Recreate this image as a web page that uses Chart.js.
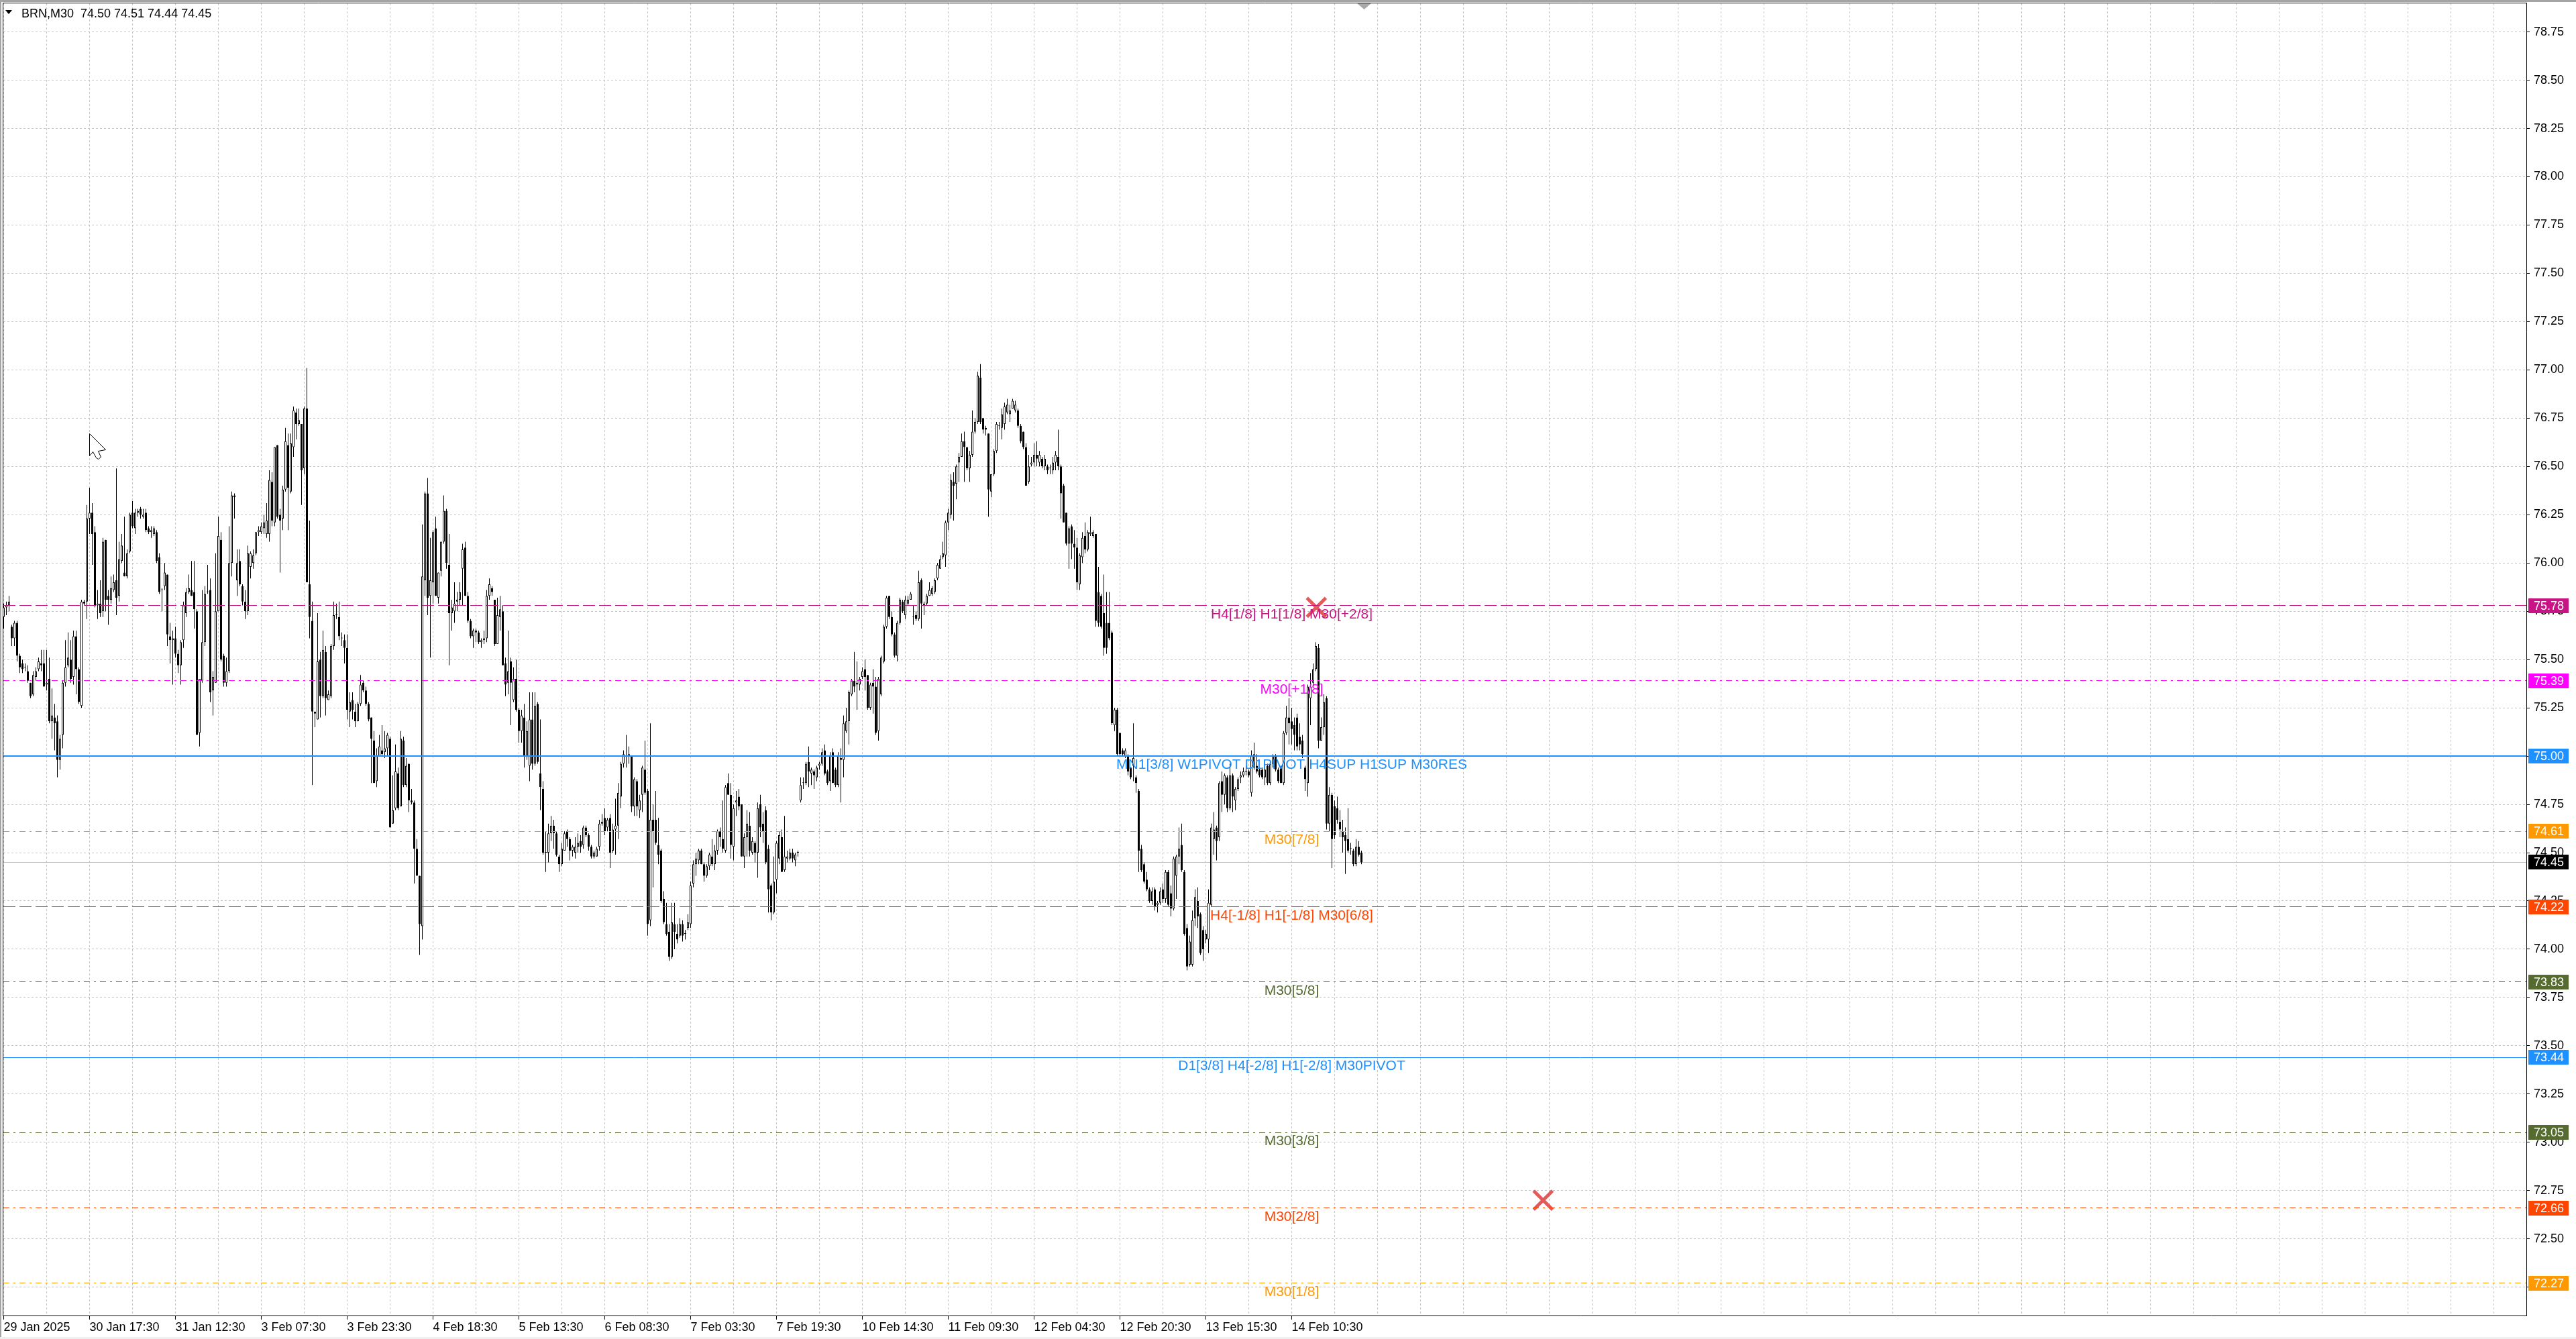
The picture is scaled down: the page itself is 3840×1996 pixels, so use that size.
<!DOCTYPE html>
<html>
<head>
<meta charset="utf-8">
<title>BRN,M30</title>
<script src="https://cdn.jsdelivr.net/npm/chart.js@4.4.1/dist/chart.umd.min.js"></script>
<style>
  html, body { margin: 0; padding: 0; background: #fff; overflow: hidden; }
  #chart { display: block; }
</style>
</head>
<body>
<canvas id="chart" width="3840" height="1996"></canvas>
<script>
// BRN M30 candles, bar 0 = 29 Jan 2025, last bar = 14 Feb 2025 (16 bars per row)
const opens = [
  75.72,75.77,75.78,75.67,75.61,75.69,75.52,75.48,75.46,75.44,75.38,75.32,75.41,75.45,75.48,75.48,
  75.37,75.40,75.18,75.20,75.18,74.98,75.11,75.38,75.47,75.50,75.41,75.62,75.45,75.26,75.80,75.80,
  76.23,76.26,76.16,75.78,75.79,75.75,76.12,75.83,75.81,75.86,75.91,75.83,76.01,75.95,75.93,76.06,
  76.26,76.18,76.26,76.28,76.24,76.26,76.18,76.16,76.15,76.16,76.03,75.86,75.88,75.94,75.62,75.60,
  75.61,75.53,75.47,75.60,75.74,75.85,75.86,75.85,75.75,75.12,75.39,75.59,75.85,75.86,75.34,75.38,
  75.75,76.12,75.52,75.38,75.44,76.00,76.35,75.91,76.01,75.88,75.80,75.75,75.98,76.00,76.05,76.16,
  76.16,76.18,76.15,76.15,76.42,76.21,76.61,76.25,76.23,76.38,76.61,76.37,76.60,76.78,76.72,76.72,
  76.49,76.80,75.89,75.70,75.23,75.19,75.50,75.31,75.54,75.29,75.31,75.57,75.73,75.72,75.61,75.60,
  75.56,75.23,75.29,75.23,75.18,75.27,75.38,75.34,75.27,75.20,75.08,74.87,75.00,75.03,75.02,75.04,
  75.09,74.65,74.73,74.91,74.74,75.08,74.85,74.96,74.77,74.76,74.52,74.38,74.12,75.91,76.36,75.83,
  75.90,76.18,75.82,75.96,76.11,76.27,75.99,75.74,75.75,75.80,75.81,75.97,76.08,75.83,75.70,75.62,
  75.65,75.64,75.59,75.60,75.61,75.83,75.87,75.81,75.58,75.72,75.75,75.48,75.38,75.49,75.29,75.40,
  75.24,75.13,75.20,75.00,74.95,75.19,74.96,75.27,74.91,74.83,74.50,74.50,74.60,74.64,74.60,74.48,
  74.44,74.51,74.61,74.57,74.51,74.50,74.53,74.56,74.54,74.63,74.59,74.53,74.48,74.48,74.53,74.65,
  74.68,74.63,74.68,74.51,74.62,74.64,74.79,74.96,75.00,75.00,75.00,74.74,74.87,74.72,74.80,74.93,
  74.82,74.15,74.67,74.67,74.54,74.51,74.26,74.13,74.09,73.96,74.13,74.08,74.07,74.13,74.08,74.11,
  74.13,74.34,74.44,74.46,74.51,74.44,74.38,74.43,74.48,74.44,74.51,74.61,74.57,74.51,74.86,74.80,
  74.53,74.76,74.79,74.75,74.48,74.58,74.64,74.50,74.55,74.50,74.75,74.65,74.72,74.52,74.33,74.19,
  74.36,74.47,74.58,74.41,74.47,74.47,74.50,74.46,74.50,74.77,74.86,74.86,74.97,74.91,74.92,74.89,
  74.95,74.96,75.03,74.92,74.87,75.02,74.93,74.85,74.99,74.98,75.13,75.18,75.32,75.39,75.37,75.37,
  75.41,75.45,75.42,75.25,75.38,75.36,75.13,75.32,75.49,75.67,75.83,75.72,75.63,75.52,75.69,75.80,
  75.73,75.79,75.81,75.72,75.73,75.71,75.91,75.78,75.79,75.83,75.84,75.85,75.92,75.97,76.03,76.04,
  76.21,76.25,76.42,76.41,76.52,76.55,76.63,76.60,76.49,76.56,76.68,76.73,76.96,76.75,76.70,76.67,
  76.37,76.46,76.58,76.71,76.70,76.72,76.78,76.77,76.80,76.79,76.79,76.71,76.68,76.60,76.42,76.51,
  76.52,76.56,76.52,76.54,76.50,76.50,76.49,76.48,76.52,76.55,76.50,76.40,76.26,76.10,76.19,76.10,
  76.08,75.89,76.03,76.14,76.07,76.15,76.14,76.15,75.85,75.83,75.74,75.69,75.69,75.64,75.16,75.24,
  75.12,75.03,75.00,75.00,74.94,74.95,74.89,74.82,74.52,74.44,74.36,74.31,74.25,74.31,74.23,74.24,
  74.31,74.26,74.40,74.29,74.21,74.38,74.48,74.54,74.40,74.11,73.92,73.92,74.16,74.25,74.18,74.10,
  74.05,74.05,74.23,74.57,74.63,74.58,74.87,74.80,74.89,74.73,74.90,74.77,74.83,74.89,74.90,74.92,
  74.92,74.81,74.94,74.95,74.93,74.93,74.89,74.95,74.86,74.96,75.00,74.93,74.94,74.86,75.12,75.20,
  75.18,75.16,75.20,75.10,75.08,74.94,74.86,75.30,75.38,75.45,75.56,75.08,75.15,75.30,74.65,74.80,
  74.74,74.73,74.66,74.61,74.59,74.57,74.52,74.51,74.44,74.53,74.50
];
const highs = [
  75.79,75.80,75.83,75.68,75.70,75.70,75.53,75.50,75.48,75.47,75.38,75.44,75.46,75.51,75.55,75.55,
  75.55,75.51,75.35,75.27,75.21,75.11,75.39,75.60,75.64,75.60,75.65,75.65,75.46,75.81,75.81,76.30,
  76.39,76.31,76.19,75.86,75.91,76.13,76.12,75.86,75.93,75.94,76.49,76.11,76.15,76.24,76.07,76.26,
  76.32,76.28,76.28,76.29,76.28,76.28,76.19,76.19,76.19,76.17,76.05,75.87,76.00,75.94,75.69,75.65,
  75.67,75.55,75.60,75.80,75.87,75.94,76.01,76.01,75.76,75.40,75.86,75.88,75.99,75.92,75.44,76.05,
  76.24,76.16,75.53,75.51,76.19,76.37,76.36,76.07,76.07,75.89,75.86,76.09,76.06,76.07,76.16,76.19,
  76.21,76.25,76.31,76.48,76.47,76.60,76.61,76.28,76.40,76.70,76.67,76.67,76.81,76.80,76.80,76.72,
  76.81,77.01,76.22,75.80,75.23,75.74,75.54,75.65,75.57,75.34,75.58,75.80,75.79,75.80,75.64,75.63,
  75.63,75.33,75.33,75.27,75.28,75.42,75.39,75.36,75.28,75.20,75.13,75.04,75.11,75.16,75.13,75.12,
  75.10,74.90,75.06,74.94,75.13,75.10,74.99,74.96,74.83,74.77,74.57,74.38,76.20,76.37,76.44,76.13,
  76.17,76.24,75.95,76.11,76.35,76.28,76.15,75.81,75.90,75.85,75.90,76.10,76.11,75.85,75.71,75.66,
  75.66,75.65,75.61,75.65,75.86,75.92,75.88,75.81,75.82,75.83,75.78,75.51,75.65,75.51,75.46,75.50,
  75.25,75.24,75.27,75.18,75.33,75.33,75.33,75.28,75.19,74.87,74.61,74.65,74.69,74.67,74.61,74.49,
  74.55,74.61,74.62,74.58,74.54,74.58,74.60,74.59,74.64,74.64,74.60,74.54,74.51,74.53,74.67,74.70,
  74.73,74.68,74.70,74.65,74.78,74.86,74.97,75.03,75.11,75.05,75.00,74.89,74.88,74.80,74.95,75.08,
  74.83,75.17,74.75,74.82,74.68,74.52,74.30,74.24,74.13,74.24,74.24,74.13,74.16,74.15,74.10,74.18,
  74.35,74.46,74.50,74.52,74.52,74.45,74.44,74.50,74.57,74.54,74.62,74.63,74.77,74.85,74.91,74.86,
  74.75,74.82,74.83,74.75,74.60,74.72,74.71,74.58,74.56,74.76,74.80,74.71,74.74,74.54,74.34,74.48,
  74.56,74.61,74.62,74.69,74.51,74.52,74.52,74.50,74.51,74.89,74.89,74.97,75.05,74.94,74.93,74.95,
  74.97,75.04,75.06,74.93,75.02,75.04,74.94,75.02,75.04,75.21,75.25,75.34,75.40,75.54,75.49,75.41,
  75.46,75.50,75.42,75.38,75.45,75.41,75.41,75.52,75.68,75.83,75.83,75.75,75.64,75.70,75.82,75.81,
  75.83,75.83,75.85,75.78,75.75,75.96,75.92,75.80,75.84,75.90,75.88,75.92,76.00,76.04,76.11,76.22,
  76.28,76.46,76.47,76.51,76.57,76.67,76.68,76.60,76.58,76.79,76.75,76.99,77.03,76.75,76.71,76.67,
  76.46,76.59,76.73,76.73,76.80,76.83,76.85,76.82,76.85,76.84,76.80,76.72,76.68,76.62,76.56,76.55,
  76.62,76.63,76.58,76.55,76.56,76.51,76.51,76.55,76.58,76.69,76.51,76.41,76.26,76.19,76.20,76.17,
  76.13,76.05,76.16,76.21,76.17,76.24,76.17,76.15,75.98,75.84,75.94,75.85,75.85,75.65,75.25,75.25,
  75.12,75.04,75.04,75.01,74.94,75.17,74.90,74.83,74.54,74.45,74.40,74.32,74.32,74.32,74.25,74.32,
  74.34,74.41,74.41,74.33,74.48,74.49,74.63,74.65,74.41,74.13,74.07,74.20,74.31,74.32,74.19,74.12,
  74.10,74.31,74.65,74.71,74.64,74.87,74.92,74.91,74.90,74.96,74.91,74.84,74.89,74.92,74.94,74.95,
  74.93,75.03,75.07,75.01,74.94,74.94,74.94,74.96,74.97,75.01,75.01,74.94,74.95,75.13,75.26,75.30,
  75.25,75.20,75.22,75.17,75.11,74.95,75.37,75.43,75.48,75.59,75.58,75.20,75.32,75.31,74.84,74.81,
  74.77,74.79,74.72,74.67,74.63,74.73,74.55,74.52,74.57,74.56,74.51
];
const lows = [
  75.66,75.73,75.75,75.57,75.57,75.49,75.43,75.43,75.44,75.38,75.30,75.31,75.39,75.44,75.44,75.36,
  75.34,75.17,75.09,75.03,74.89,74.93,75.04,75.36,75.46,75.38,75.37,75.32,75.27,75.25,75.78,75.71,
  76.15,75.99,75.77,75.71,75.72,75.72,75.75,75.68,75.79,75.85,75.73,75.80,76.00,75.93,75.92,76.05,
  76.18,76.15,76.24,76.23,76.23,76.16,76.15,76.13,76.14,76.00,75.84,75.75,75.86,75.57,75.48,75.37,
  75.51,75.43,75.37,75.56,75.72,75.84,75.83,75.66,75.11,75.05,75.38,75.57,75.84,75.28,75.21,75.38,
  75.75,75.49,75.36,75.36,75.43,75.93,76.23,75.83,75.88,75.78,75.71,75.73,75.92,75.97,76.04,76.14,
  76.15,76.15,76.13,76.11,76.19,76.19,76.23,75.95,76.17,76.37,76.17,76.36,76.55,76.64,76.71,76.30,
  76.46,75.90,75.61,74.85,75.15,75.19,75.20,75.30,75.21,75.29,75.30,75.55,75.71,75.60,75.57,75.48,
  75.19,75.15,75.19,75.15,75.18,75.26,75.33,75.26,75.18,74.86,74.86,74.84,75.00,75.00,74.99,75.00,
  74.63,74.65,74.72,74.72,74.74,74.84,74.84,74.71,74.75,74.34,74.38,73.97,74.05,75.83,75.73,75.51,
  75.79,75.83,75.79,75.93,76.10,75.97,75.47,75.65,75.69,75.75,75.78,75.78,75.83,75.69,75.61,75.56,
  75.59,75.58,75.56,75.58,75.59,75.81,75.83,75.57,75.58,75.65,75.47,75.31,75.32,75.16,75.28,75.23,
  75.07,75.07,74.94,74.98,74.87,74.93,74.95,74.96,74.72,74.49,74.40,74.45,74.56,74.52,74.48,74.40,
  74.43,74.51,74.53,74.46,74.48,74.47,74.50,74.50,74.52,74.58,74.51,74.47,74.47,74.48,74.51,74.64,
  74.59,74.61,74.42,74.50,74.49,74.57,74.73,74.94,74.94,74.96,74.71,74.69,74.69,74.68,74.71,74.80,
  74.07,74.12,74.32,74.54,74.44,74.24,74.13,74.07,73.94,73.95,74.00,74.03,74.06,74.04,74.05,74.10,
  74.11,74.32,74.38,74.44,74.44,74.35,74.37,74.41,74.43,74.41,74.49,74.53,74.50,74.50,74.80,74.47,
  74.46,74.69,74.72,74.48,74.42,74.48,74.48,74.49,74.45,74.37,74.58,74.55,74.44,74.19,74.15,74.18,
  74.29,74.44,74.40,74.40,74.45,74.46,74.45,74.43,74.48,74.76,74.83,74.85,74.84,74.85,74.83,74.87,
  74.93,74.95,74.90,74.85,74.82,74.86,74.84,74.84,74.76,74.89,75.12,75.06,75.31,75.33,75.24,75.34,
  75.40,75.34,75.24,75.24,75.22,75.11,75.08,75.31,75.48,75.66,75.71,75.62,75.51,75.49,75.68,75.74,
  75.71,75.78,75.81,75.68,75.70,75.70,75.66,75.73,75.78,75.83,75.83,75.84,75.91,75.97,76.02,75.98,
  76.17,76.23,76.22,76.33,76.42,76.55,76.42,76.48,76.42,76.55,76.67,76.72,76.72,76.67,76.66,76.24,
  76.34,76.45,76.57,76.69,76.64,76.69,76.77,76.73,76.80,76.78,76.70,76.62,76.59,76.40,76.41,76.50,
  76.50,76.50,76.50,76.49,76.48,76.46,76.46,76.46,76.48,76.48,76.23,76.21,76.09,75.97,76.02,75.97,
  75.86,75.86,76.00,76.05,76.06,76.14,76.13,75.67,75.67,75.66,75.52,75.53,75.60,75.16,75.13,75.00,
  75.00,75.00,74.99,74.90,74.88,74.87,74.81,74.40,74.40,74.34,74.30,74.24,74.23,74.20,74.19,74.23,
  74.24,74.24,74.22,74.17,74.20,74.26,74.44,74.40,74.07,73.89,73.91,73.91,74.12,74.11,73.97,73.94,
  74.03,73.98,74.22,74.49,74.46,74.56,74.71,74.75,74.71,74.72,74.71,74.72,74.82,74.86,74.89,74.90,
  74.89,74.79,74.93,74.91,74.89,74.88,74.85,74.85,74.85,74.94,74.92,74.86,74.86,74.85,75.11,75.06,
  75.06,75.03,75.03,75.03,74.99,74.82,74.79,75.16,75.36,75.44,75.04,75.08,75.11,74.62,74.61,74.42,
  74.57,74.65,74.58,74.50,74.39,74.50,74.49,74.43,74.43,74.48,74.44
];
const closes = [
  75.77,75.78,75.80,75.61,75.69,75.52,75.46,75.45,75.46,75.39,75.31,75.42,75.44,75.49,75.47,75.36,
  75.38,75.18,75.21,75.17,74.98,75.09,75.38,75.46,75.51,75.40,75.62,75.45,75.28,75.80,75.79,76.23,
  76.26,76.15,75.78,75.79,75.74,76.11,75.81,75.81,75.87,75.90,75.82,76.02,76.09,75.93,76.05,76.25,
  76.19,76.26,76.27,76.25,76.25,76.17,76.16,76.17,76.18,76.01,75.85,75.86,75.95,75.63,75.60,75.61,
  75.53,75.47,75.59,75.78,75.85,75.87,75.83,75.76,75.11,75.40,75.59,75.84,75.85,75.33,75.41,75.75,
  76.14,75.50,75.38,75.44,76.00,76.35,76.34,76.00,75.89,75.80,75.75,76.05,76.05,76.04,76.16,76.17,
  76.19,76.21,76.22,76.43,76.22,76.60,76.24,76.22,76.38,76.63,76.39,76.62,76.79,76.72,76.74,76.48,
  76.80,75.90,75.72,75.23,75.22,75.49,75.31,75.55,75.30,75.32,75.57,75.73,75.73,75.62,75.61,75.56,
  75.24,75.28,75.24,75.18,75.27,75.37,75.34,75.27,75.19,75.09,74.86,75.00,75.05,75.01,75.04,75.11,
  74.63,74.72,74.92,74.73,75.09,74.85,74.95,74.77,74.76,74.52,74.38,74.13,75.93,76.36,75.82,75.91,
  76.16,75.83,75.95,76.11,76.27,76.00,75.74,75.77,75.79,75.81,75.85,76.07,75.83,75.70,75.62,75.65,
  75.64,75.59,75.60,75.61,75.83,75.89,75.85,75.58,75.73,75.76,75.47,75.37,75.44,75.38,75.40,75.24,
  75.13,75.21,75.00,75.13,75.19,74.96,75.26,74.97,74.84,74.50,74.50,74.60,74.64,74.60,74.49,74.44,
  74.52,74.60,74.57,74.51,74.53,74.53,74.55,74.53,74.63,74.59,74.53,74.48,74.50,74.52,74.65,74.66,
  74.61,74.67,74.50,74.62,74.64,74.81,74.96,75.01,75.00,75.01,74.74,74.88,74.74,74.77,74.94,74.81,
  74.13,74.67,74.61,74.55,74.49,74.25,74.14,74.08,73.96,74.14,74.09,74.05,74.13,74.07,74.08,74.14,
  74.33,74.44,74.47,74.51,74.44,74.38,74.43,74.49,74.44,74.51,74.61,74.58,74.52,74.84,74.80,74.54,
  74.73,74.77,74.74,74.48,74.58,74.65,74.51,74.56,74.50,74.73,74.63,74.61,74.45,74.31,74.19,74.35,
  74.55,74.59,74.40,74.48,74.48,74.50,74.47,74.49,74.50,74.85,74.86,74.96,74.92,74.93,74.90,74.94,
  74.96,75.02,74.91,74.86,75.00,74.86,74.85,75.00,74.98,75.17,75.18,75.33,75.39,75.36,75.38,75.40,
  75.44,75.41,75.25,75.37,75.36,75.12,75.40,75.51,75.67,75.82,75.72,75.63,75.52,75.69,75.81,75.75,
  75.81,75.81,75.84,75.72,75.71,75.90,75.79,75.79,75.83,75.86,75.87,75.91,75.99,76.02,76.05,76.21,
  76.26,76.43,76.40,76.50,76.55,76.63,76.60,76.49,76.56,76.68,76.73,76.97,76.73,76.69,76.69,76.38,
  76.46,76.58,76.72,76.71,76.77,76.81,76.82,76.79,76.84,76.82,76.71,76.63,76.60,76.40,76.50,76.52,
  76.56,76.54,76.56,76.50,76.54,76.48,76.49,76.52,76.56,76.50,76.36,76.21,76.10,76.18,76.10,76.08,
  75.90,76.04,76.13,76.07,76.16,76.16,76.16,75.70,75.69,75.67,75.56,75.56,75.61,75.17,75.24,75.01,
  75.01,75.01,75.03,74.92,74.89,74.99,74.86,74.51,74.41,74.35,74.31,74.25,74.30,74.22,74.24,74.30,
  74.26,74.40,74.23,74.21,74.47,74.48,74.52,74.41,74.08,73.91,74.04,74.15,74.27,74.17,73.98,74.00,
  74.08,74.24,74.63,74.62,74.56,74.86,74.80,74.90,74.73,74.90,74.79,74.83,74.88,74.90,74.92,74.92,
  74.90,75.00,75.01,74.92,74.90,74.89,74.93,74.86,74.96,75.00,74.93,74.87,74.86,75.12,75.20,75.17,
  75.14,75.11,75.05,75.06,75.01,74.88,75.36,75.36,75.45,75.57,75.08,75.15,75.28,74.65,74.80,74.57,
  74.59,74.67,74.62,74.58,74.56,74.51,74.52,74.44,74.53,74.49,74.45
];

// time axis: one label every 32 bars
const timeLabels = [
  '29 Jan 2025', '30 Jan 17:30', '31 Jan 12:30', '3 Feb 07:30', '3 Feb 23:30', '4 Feb 18:30',
  '5 Feb 13:30', '6 Feb 08:30', '7 Feb 03:30', '7 Feb 19:30', '10 Feb 14:30', '11 Feb 09:30',
  '12 Feb 04:30', '12 Feb 20:30', '13 Feb 15:30', '14 Feb 10:30'
];
const priceTicks = [
  72.25, 72.50, 72.75, 73.00, 73.25, 73.50, 73.75, 74.00, 74.25, 74.50, 74.75, 75.00, 75.25, 75.50,
  75.75, 76.00, 76.25, 76.50, 76.75, 77.00, 77.25, 77.50, 77.75, 78.00, 78.25, 78.50, 78.75
];

// Murrey levels + pivots
const levelPrices = [75.78, 75.39, 75.00, 74.61, 74.22, 73.83, 73.44, 73.05, 72.66, 72.27];
const levelTexts = [
  'H4[1/8] H1[1/8] M30[+2/8]',
  'M30[+1/8]',
  'MN1[3/8] W1PIVOT D1PIVOT H4SUP H1SUP M30RES',
  'M30[7/8]',
  'H4[-1/8] H1[-1/8] M30[6/8]',
  'M30[5/8]',
  'D1[3/8] H4[-2/8] H1[-2/8] M30PIVOT',
  'M30[3/8]',
  'M30[2/8]',
  'M30[1/8]'
];
const levelLabelBar = 480;

// the two red crosses
const crossBars = [489.2, 573.7];
const crossPrices = [75.77, 72.70];

// where the mouse pointer was left
const pointerBar = 31.9;
const pointerPrice = 76.67;

const symbolName = 'BRN,M30';

// ---- styles ----
const DASH = [18, 6];
const DASHDOT = [9, 6, 3, 6];
const levelColors = ['#C71585', '#FF00FF', '#1E90FF', '#FF9900', '#FF4500',
                     '#556B2F', '#1E90FF', '#556B2F', '#FF4500', '#FF9900'];
const levelDashes = [DASH, DASHDOT, [], DASHDOT, DASH, DASHDOT, [], DASHDOT, DASHDOT, DASHDOT];
const levelWidths = [1, 1, 2, 1, 1, 1, 1, 1, 1, 1];
const GRID = '#C4C4C4';
const FONT = '"Liberation Sans", Arial, sans-serif';

const X_MIN = -0.125, X_MAX = 940.125;
const Y_MIN = 72.103, Y_MAX = 78.898;
const last = closes.length - 1;

Chart.defaults.font.family = FONT;

const wickData = highs.map((h, i) => ({ x: i, y: [lows[i], h] }));
const bodyData = opens.map((o, i) => ({ x: i, y: [Math.min(o, closes[i]), Math.max(o, closes[i])] }));
const bodyFill = opens.map((o, i) => closes[i] >= o ? '#ffffff' : '#000000');

function timeLabelAt(v) {
  if (v === undefined || v % 32 !== 0) return '';
  return timeLabels[v / 32] || '';
}

// horizontal line across the plot at a price, snapped to the pixel grid
function hLine(ctx, chart, price, color, width, dash) {
  const a = chart.chartArea;
  const py = chart.scales.y.getPixelForValue(price);
  const yy = width % 2 ? Math.floor(py) + 0.5 : Math.round(py);
  ctx.save();
  ctx.beginPath();
  ctx.rect(a.left, a.top, a.right - a.left, a.bottom - a.top);
  ctx.clip();
  ctx.strokeStyle = color;
  ctx.lineWidth = width;
  ctx.setLineDash(dash);
  ctx.beginPath();
  ctx.moveTo(a.left, yy);
  ctx.lineTo(a.right, yy);
  ctx.stroke();
  ctx.restore();
}

const mtDecor = {
  id: 'mtDecor',
  beforeDraw(chart) {
    const ctx = chart.ctx;
    ctx.save();
    ctx.fillStyle = '#ffffff';
    ctx.fillRect(0, 0, chart.width, chart.height);
    ctx.fillStyle = '#A4A4A4';
    ctx.fillRect(0, 0, chart.width, 3);
    ctx.fillRect(0, 0, 2, chart.height);
    ctx.fillStyle = '#EEEEEE';
    ctx.fillRect(0, chart.height - 3, chart.width, 3);
    ctx.restore();
  },
  beforeDatasetsDraw(chart) {
    // bid line sits under the candles
    hLine(chart.ctx, chart, closes[last], '#C0C0C0', 1, []);
  },
  afterDatasetsDraw(chart) {
    const { ctx, scales: { x, y } } = chart;
    levelPrices.forEach((p, k) => hLine(ctx, chart, p, levelColors[k], levelWidths[k], levelDashes[k]));
    const cx = x.getPixelForValue(levelLabelBar);
    ctx.save();
    ctx.font = '21px ' + FONT;
    ctx.textAlign = 'center';
    ctx.textBaseline = 'alphabetic';
    levelPrices.forEach((p, k) => {
      ctx.fillStyle = levelColors[k];
      ctx.fillText(levelTexts[k], cx, Math.round(y.getPixelForValue(p)) + 19);
    });
    ctx.restore();
  },
  afterDraw(chart) {
    const { ctx, chartArea: a, scales: { x, y } } = chart;
    ctx.save();
    // left and top frame lines
    ctx.strokeStyle = '#000';
    ctx.lineWidth = 1;
    ctx.beginPath();
    ctx.moveTo(a.left - 0.5, a.bottom + 1);
    ctx.lineTo(a.left - 0.5, a.top - 0.5);
    ctx.lineTo(a.right + 1, a.top - 0.5);
    ctx.stroke();

    // chart shift marker
    const sx = x.getPixelForValue(closes.length);
    ctx.fillStyle = '#A8A8A8';
    ctx.beginPath();
    ctx.moveTo(sx - 10.5, a.top);
    ctx.lineTo(sx + 10.5, a.top);
    ctx.lineTo(sx, a.top + 9);
    ctx.closePath();
    ctx.fill();

    // header
    const f = v => v.toFixed(2);
    ctx.fillStyle = '#000';
    ctx.beginPath();
    ctx.moveTo(8, 15); ctx.lineTo(18, 15); ctx.lineTo(13, 21); ctx.closePath();
    ctx.fill();
    ctx.font = '18px ' + FONT;
    ctx.textAlign = 'left';
    ctx.textBaseline = 'alphabetic';
    ctx.fillText(symbolName + '  ' + f(opens[last]) + ' ' + f(highs[last]) + ' ' +
                 f(lows[last]) + ' ' + f(closes[last]), 32, 26);

    // price tags on the right scale
    const tag = (value, bg) => {
      const py = Math.round(y.getPixelForValue(value));
      ctx.fillStyle = bg;
      ctx.fillRect(a.right + 3, py - 11, 60, 22);
      ctx.fillStyle = '#fff';
      ctx.textBaseline = 'middle';
      ctx.fillText(f(value), a.right + 11, py + 1);
    };
    levelPrices.forEach((p, k) => tag(p, levelColors[k]));
    tag(closes[last], '#000');

    // mouse pointer
    const mx = Math.round(x.getPixelForValue(pointerBar)) + 0.5;
    const my = Math.round(y.getPixelForValue(pointerPrice)) + 0.5;
    const arrow = [[0, 0], [0, 33], [5, 27], [10, 36], [13, 38], [17, 35], [13, 26], [24, 24]];
    ctx.beginPath();
    arrow.forEach(([dx, dy], i) => i ? ctx.lineTo(mx + dx, my + dy) : ctx.moveTo(mx + dx, my + dy));
    ctx.closePath();
    ctx.fillStyle = '#fff';
    ctx.fill();
    ctx.strokeStyle = '#000';
    ctx.stroke();
    ctx.restore();
  }
};

new Chart(document.getElementById('chart'), {
  type: 'bar',
  data: {
    datasets: [
      {
        type: 'line',
        showLine: false,
        data: crossBars.map((b, k) => ({ x: b, y: crossPrices[k] })),
        pointStyle: 'crossRot',
        pointRadius: 20,
        pointBorderWidth: 5,
        pointBorderColor: '#E25B5B',
        pointBackgroundColor: 'rgba(0,0,0,0)',
        order: -1
      },
      {
        type: 'bar',
        data: wickData,
        backgroundColor: '#000',
        borderWidth: 0,
        barThickness: 1,
        grouped: false,
        inflateAmount: 0,
        order: 2
      },
      {
        type: 'bar',
        data: bodyData,
        backgroundColor: bodyFill,
        borderColor: '#000',
        borderWidth: 1,
        borderSkipped: false,
        barThickness: 3,
        minBarLength: 1,
        grouped: false,
        inflateAmount: 0,
        order: 1
      }
    ]
  },
  options: {
    responsive: false,
    devicePixelRatio: 1,
    animation: false,
    events: [],
    layout: { autoPadding: false, padding: { left: 5, top: 5, right: 0, bottom: 0 } },
    plugins: { legend: { display: false }, tooltip: { enabled: false } },
    scales: {
      x: {
        type: 'linear',
        position: 'bottom',
        min: X_MIN,
        max: X_MAX,
        offset: false,
        afterBuildTicks: ax => {
          const t = [];
          for (let v = 0; v <= X_MAX; v += 16) t.push({ value: v });
          ax.ticks = t;
        },
        afterFit: ax => { ax.height = 35; ax.paddingLeft = 0; ax.paddingRight = 0; },
        grid: {
          color: GRID,
          offset: false,
          tickLength: 6,
          tickWidth: 1,
          tickColor: c => timeLabelAt(c.tick && c.tick.value) ? '#000' : 'rgba(0,0,0,0)'
        },
        border: { display: true, color: '#000', width: 1, dash: [3, 3] },
        ticks: {
          autoSkip: false, maxRotation: 0, minRotation: 0, align: 'start',
          padding: 1, color: '#000', font: { size: 18 },
          callback: v => timeLabelAt(v)
        }
      },
      y: {
        type: 'linear',
        position: 'right',
        min: Y_MIN,
        max: Y_MAX,
        afterBuildTicks: ax => { ax.ticks = priceTicks.map(v => ({ value: v })); },
        afterFit: ax => { ax.width = 74; ax.paddingTop = 0; ax.paddingBottom = 0; },
        grid: { color: GRID, tickLength: 5, tickWidth: 1, tickColor: '#000' },
        border: { display: true, color: '#000', width: 1, dash: [3, 3] },
        ticks: {
          autoSkip: false, padding: 6, color: '#000', font: { size: 18 },
          callback: v => v.toFixed(2)
        }
      }
    }
  },
  plugins: [mtDecor]
});
</script>
</body>
</html>
